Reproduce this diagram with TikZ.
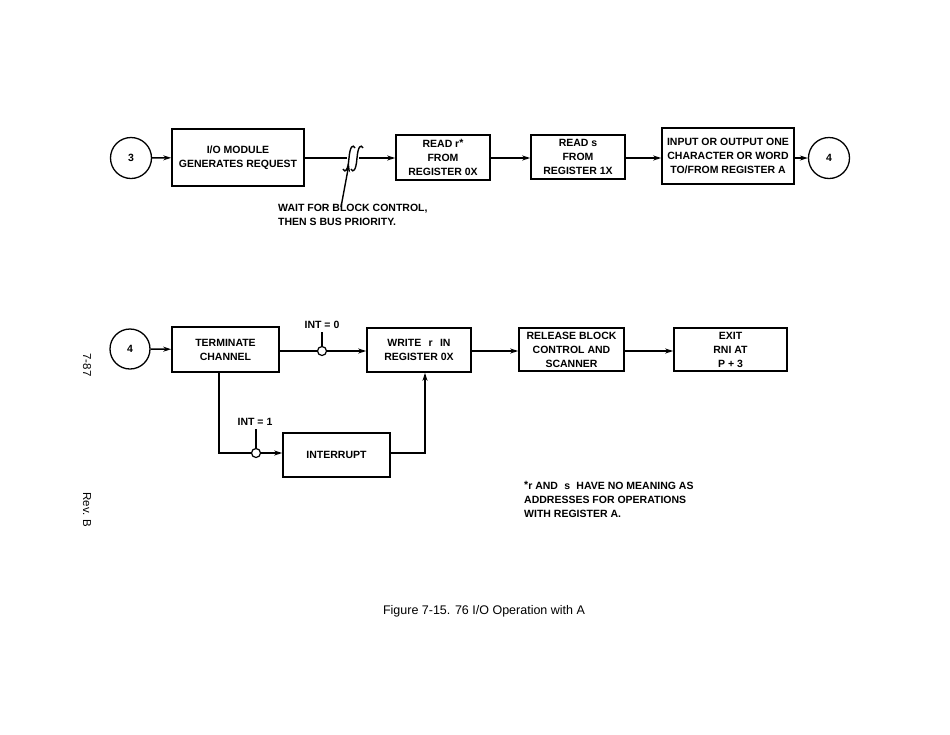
\documentclass[tikz,border=0pt]{standalone}
\usepackage{fontspec}
\setmainfont{Liberation Sans}
\usetikzlibrary{arrows.meta}
\begin{document}
\begin{tikzpicture}[x=1pt,y=-1pt,
  every node/.style={font=\fontsize{10.5}{14}\selectfont\bfseries, inner sep=0pt},
  box/.style={draw, line width=1.6pt, align=center},
  circ/.style={draw, circle, line width=1.3pt, minimum size=41pt},
  junc/.style={draw, circle, line width=1.2pt, minimum size=9pt, fill=white},
  conn/.style={line width=1.4pt},
  arr/.style={conn, -{Stealth[length=8pt,width=5pt]}},
  side/.style={font=\fontsize{11.5}{14}\selectfont, rotate=-90},
]
\useasboundingbox (0,0) rectangle (950,734);

% ---------- top row ----------
\node[circ] (c3) at (131,158) {3};
\node[box, minimum width=132pt, minimum height=57pt] (io) at (238,157.5) {I/O MODULE\\GENERATES REQUEST};
\node[box, minimum width=94pt, minimum height=45pt] (readr) at (443,157.5) {READ r\raisebox{1.5pt}{*}\\FROM\\REGISTER 0X};
\node[box, minimum width=94pt, minimum height=44pt] (reads) at (578,157) {READ s\\FROM\\REGISTER 1X};
\node[box, minimum width=132pt, minimum height=56pt] (inout) at (728,156) {INPUT OR OUTPUT ONE\\CHARACTER OR WORD\\TO/FROM REGISTER A};
\node[circ] (c4a) at (829,158) {4};

\coordinate (sq1) at (347,158);
\coordinate (sq2) at (359,158);
\draw[arr] (c3) -- (io);
\draw[conn] (io.east |- sq1) -- (sq1);
\draw[conn] (343,169) .. controls (345,173) and (348,171) .. (349,158) .. controls (350,146) and (353,144) .. (355,148);
\draw[conn] (351,169) .. controls (353,173) and (356,171) .. (357,158) .. controls (358,146) and (361,144) .. (363,148);
\draw[arr] (sq2) -- (readr.west |- sq2);
\draw[arr] (readr.east |- sq2) -- (reads.west |- sq2);
\draw[arr] (reads.east |- sq2) -- (inout.west |- sq2);
\draw[arr] (inout.east |- sq2) -- (c4a.west);

\node[anchor=north west, align=left] (wait) at (278,204) {WAIT FOR BLOCK CONTROL,\\THEN S BUS PRIORITY.};
\coordinate (wt) at (341,207);
\coordinate (wh) at (349,164);
\draw[arr] (wt) -- (wh);

% ---------- bottom row ----------
\node[circ, minimum size=40pt] (c4b) at (130,349) {4};
\node[box, minimum width=107pt, minimum height=45pt] (term) at (225.5,349.5) {TERMINATE\\CHANNEL};
\node[box, minimum width=104pt, minimum height=44pt] (write) at (419,350) {WRITE\hspace{0.7em}r\hspace{0.7em}IN\\REGISTER 0X};
\node[box, minimum width=105pt, minimum height=43pt] (release) at (571.5,349.5) {RELEASE BLOCK\\CONTROL AND\\SCANNER};
\node[box, minimum width=113pt, minimum height=43pt] (exit) at (730.5,349.5) {EXIT\\RNI AT\\P + 3};
\node[box, minimum width=107pt, minimum height=44pt] (intr) at (336.5,455) {INTERRUPT};

\draw[arr] (c4b) -- (term);
\node[junc] (j0) at (322,351) {};
\coordinate (t0) at (322,332);
\node[anchor=south] (l0) at (322,329) {INT = 0};
\draw[conn] (t0) -- (j0.north);
\draw[conn] (term.east |- j0) -- (j0.west);
\draw[arr] (j0.east) -- (write.west |- j0);
\draw[arr] (write.east |- j0) -- (release.west |- j0);
\draw[arr] (release.east |- j0) -- (exit.west |- j0);

\coordinate (tb) at (219,372);
\coordinate (tc) at (219,453);
\node[junc] (j1) at (256,453) {};
\coordinate (t1) at (256,429);
\node[anchor=south] (l1) at (255,426) {INT = 1};
\draw[conn] (t1) -- (j1.north);
\draw[conn] (tb) -- (tc) -- (j1.west);
\draw[arr] (j1.east) -- (intr.west |- j1);
\coordinate (ic) at (425,453);
\draw[arr] (intr.east |- ic) -- (ic) -- (ic |- write.south);

% ---------- notes ----------
\node[anchor=north west, align=left] (note) at (524,481) {\raisebox{1.5pt}{*}r AND\hspace{0.6em}s\hspace{0.6em}HAVE NO MEANING AS\\ADDRESSES FOR OPERATIONS\\WITH REGISTER A.};
\node[side] (pg) at (87,365) {7-87};
\node[side] (rev) at (87,510) {Rev. B};
\node[font=\fontsize{12.5}{14}\selectfont] (cap) at (484,611) {Figure 7-15. 76 I/O Operation with A};
\end{tikzpicture}
\end{document}
